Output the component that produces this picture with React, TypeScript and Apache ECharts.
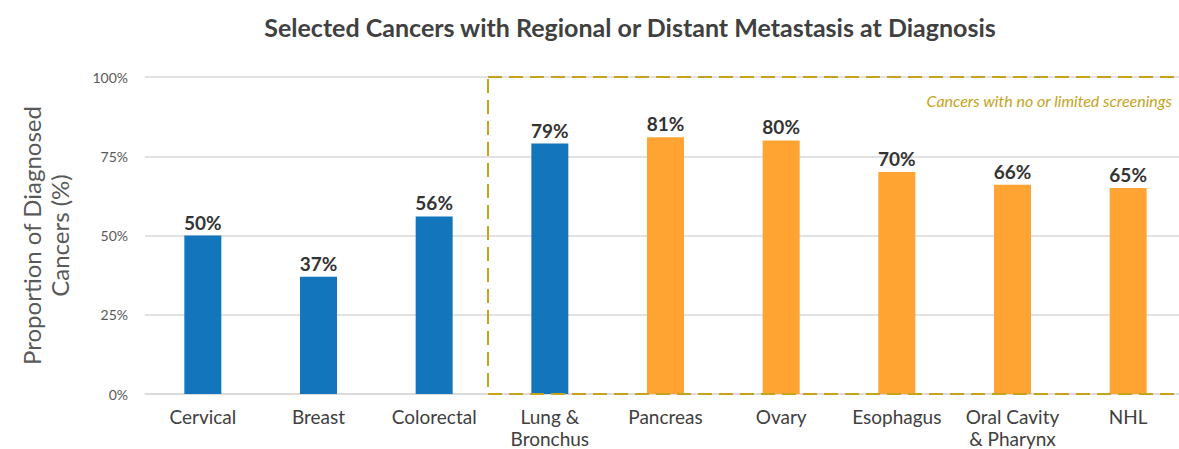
import React, { useEffect, useRef } from "react";
import * as echarts from "echarts";

const categories = [
  "Cervical",
  "Breast",
  "Colorectal",
  "Lung &\nBronchus",
  "Pancreas",
  "Ovary",
  "Esophagus",
  "Oral Cavity\n& Pharynx",
  "NHL",
];
const values = [50, 37, 56, 79, 81, 80, 70, 66, 65];
// Cancers with routine screening programs are drawn in blue
const screened = [true, true, true, true, false, false, false, false, false];
const yTicks = [0, 25, 50, 75, 100];

const BLUE = "#1375BC";
const ORANGE = "#FFA332";
const GOLD = "#C7A21B";
const FONT = "Lato, 'Open Sans', sans-serif";

export default function App() {
  const ref = useRef<HTMLDivElement>(null);

  useEffect(() => {
    if (!ref.current) return;
    const chart = echarts.init(ref.current, undefined, { renderer: "svg" });
    chart.setOption({
      animation: false,
      title: {
        text: "Selected Cancers with Regional or Distant Metastasis at Diagnosis",
        left: 625,
        textAlign: "center",
        top: 9,
        textStyle: {
          fontFamily: FONT,
          fontWeight: "bold",
          fontSize: 25,
          color: "#404040",
        },
      },
      grid: {
        left: 145,
        top: 77,
        width: 1041,
        height: 317,
        outerBoundsMode: "none",
        containLabel: false,
      },
      xAxis: {
        type: "category",
        data: categories,
        axisTick: { show: false },
        axisLine: { lineStyle: { color: "#d9d9d9", width: 1.5 } },
        axisLabel: {
          fontFamily: FONT,
          fontSize: 19,
          color: "#404040",
          lineHeight: 22,
          margin: 11,
          interval: 0,
        },
      },
      yAxis: {
        type: "value",
        min: 0,
        max: 100,
        interval: 25,
        name: "Proportion of Diagnosed\nCancers (%)",
        nameLocation: "middle",
        nameGap: 72,
        nameTextStyle: {
          fontFamily: FONT,
          fontSize: 24,
          color: "#595959",
          lineHeight: 28,
        },
        axisLabel: {
          fontFamily: FONT,
          fontSize: 14,
          color: "#595959",
          margin: 17,
          formatter: (v: number) => (yTicks.includes(v) ? v + "%" : ""),
        },
        splitLine: { lineStyle: { color: "#d9d9d9", width: 1.5 } },
      },
      series: [
        {
          type: "bar",
          barWidth: 37,
          data: values.map((v, i) => ({
            value: v,
            itemStyle: { color: screened[i] ? BLUE : ORANGE },
          })),
          label: {
            show: true,
            position: "top",
            distance: 4,
            formatter: "{c}%",
            fontFamily: FONT,
            fontWeight: "bold",
            fontSize: 19,
            color: "#333333",
          },
        },
      ],
      graphic: [
        {
          type: "rect",
          shape: { x: 488, y: 77, width: 720, height: 317 },
          style: {
            fill: "none",
            stroke: GOLD,
            lineWidth: 2,
            lineDash: [14, 7],
          },
          z: 10,
        },
        {
          type: "text",
          x: 1172,
          y: 100,
          style: {
            text: "Cancers with no or limited screenings",
            fontFamily: FONT,
            fontStyle: "italic",
            fontSize: 16,
            fill: GOLD,
            textAlign: "right",
            textVerticalAlign: "middle",
          },
          z: 10,
        },
      ],
    });
    return () => chart.dispose();
  }, []);

  return (
    <div
      ref={ref}
      style={{ position: "absolute", left: 0, top: 0, width: 1179, height: 449 }}
    />
  );
}
